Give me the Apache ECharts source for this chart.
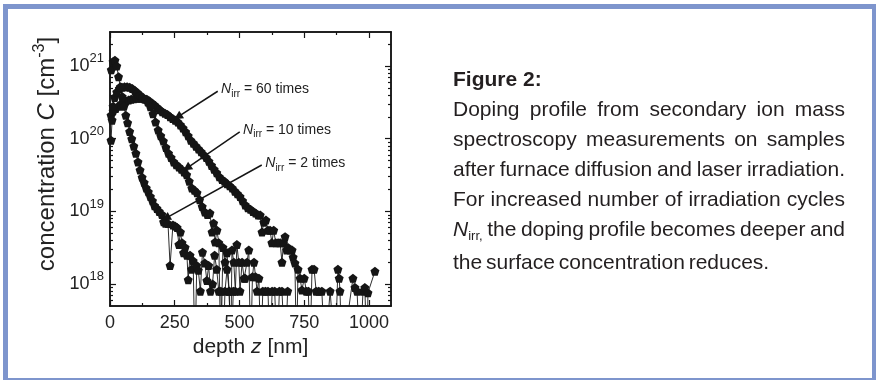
<!DOCTYPE html>
<html>
<head>
<meta charset="utf-8">
<script src="https://cdn.jsdelivr.net/npm/echarts@6/dist/echarts.min.js"></script>
<style>
html,body{margin:0;padding:0;background:#fff;}
#wrap{position:relative;width:876px;height:380px;overflow:hidden;background:#fff;}
#frame{position:absolute;left:3px;top:4px;right:0;bottom:0;border-style:solid;border-color:#7e95cd;border-width:5px 4px 2px 5px;background:#fff;}
#chart{position:absolute;left:0;top:0;width:876px;height:380px;}
#caption{position:absolute;left:453px;top:64px;width:392px;font-family:"Liberation Sans",Arial,sans-serif;font-size:21px;line-height:30px;color:#231f20;word-spacing:-2px;z-index:5;}
#caption .hd{font-weight:bold;word-spacing:0;}
#caption .ln{text-align:justify;text-align-last:justify;}
#caption .last{text-align:left;text-align-last:left;}
#caption .sub{font-size:13px;position:relative;top:4px;}
</style>
</head>
<body>
<div id="wrap">
	<div id="frame"></div>
	<div id="chart"></div>
	<div id="caption">
		<div class="hd">Figure 2:</div>
		<div class="ln">Doping profile from secondary ion mass</div>
		<div class="ln">spectroscopy measurements on samples</div>
		<div class="ln">after furnace diffusion and laser irradiation.</div>
		<div class="ln">For increased number of irradiation cycles</div>
		<div class="ln"><i>N</i><span class="sub">irr,</span> the doping profile becomes deeper and</div>
		<div class="ln last">the surface concentration reduces.</div>
	</div>
</div>
<script>
// depth [nm] and concentration [cm^-3]
var depthA = [5,12,19,26,33,40,47,54,61,68,76,84,92,100,108,116,124,132,140,148,156,164,172,181,190,200,207,214,224,232,243,251,259,266,272,278,284,290,297,302,309,315,321,328,335,341,349,357,366,374,381,388,396,404,412,420,428,436,444,452,460,468,476];
var concA = [8.9e20,1.15e21,1.2e21,1.0e21,7.1e20,5.2e20,3.8e20,2.8e20,2.1e20,1.66e20,1.26e20,1.0e20,7.9e19,6.3e19,4.8e19,3.7e19,2.95e19,2.5e19,2.1e19,1.86e19,1.6e19,1.4e19,1.2e19,1.1e19,1.0e19,9.1e18,7.2e18,6.9e18,6.8e18,1.8e18,6.5e18,6.3e18,6.0e18,3.5e18,5.2e18,3.7e18,2.7e18,3.2e18,2.5e18,1.15e18,2.5e18,1.6e18,2.1e18,1e17,1.8e18,1.55e18,8e17,2.75e18,1.95e18,1.12e18,1.8e18,8e17,1.0e18,2.5e18,1.6e18,8e17,8e17,1e17,8e17,1.6e18,8e17,1e17,8e17];

var depthB = [4,8,12,18,26,36,46,56,66,76,86,96,106,116,126,136,146,156,166,176,186,196,206,216,226,236,246,256,266,276,286,296,306,316,326,336,346,356,366,376,386,394,400,406,413,420,428,436,444,452,460,466,471,478,484,490,497,502,510,518,522,529,536,543,550,556,562,568,575,582,590,600,610,618,626,636,645,654,664,676,686];
var concB = [9.5e19,1.8e20,2.8e20,3.7e20,4.4e20,4.9e20,5.1e20,5.2e20,5.2e20,5.1e20,4.9e20,4.6e20,4.3e20,4.0e20,3.7e20,3.5e20,3.2e20,2.75e20,2.2e20,1.7e20,1.32e20,1.1e20,9.3e19,7.6e19,6.3e19,5.5e19,4.8e19,4.4e19,4.1e19,3.8e19,3.5e19,3.2e19,2.6e19,2.1e19,1.95e19,1.8e19,1.45e19,1.17e19,9.8e18,9.1e18,9.5e18,5.2e18,6.9e18,3.8e18,5.5e18,3.7e18,1e17,3.2e18,2.0e18,2.7e18,8e17,1e17,2.95e18,2.0e18,8e17,3.5e18,2.0e18,8e17,2.0e18,1.2e18,1.2e18,2.0e18,2.95e18,1e17,1.26e18,2.0e18,1.26e18,8e17,1.2e18,1e17,8e17,8e17,8e17,1e17,8e17,8e17,1e17,8e17,8e17,1e17,8e17];

var depthC = [4,12,22,32,42,52,62,72,82,92,102,112,122,132,142,152,162,172,182,192,202,212,222,232,242,252,262,272,282,292,302,312,322,332,342,352,362,372,382,392,402,412,422,432,442,452,462,472,482,492,502,512,522,532,542,552,562,572,580,587,594,602,610,618,625,632,640,649,657,664,670,676,682,687,695,703,707,714,720,726,734,741,750,758,766,772,780,788,796,806,818,830,850,869,880,885,888,896,938,946,954,965,977,984,992,996,1023];
var concC = [2.1e20,2.4e20,2.6e20,2.8e20,3.0e20,3.2e20,3.3e20,3.4e20,3.5e20,3.55e20,3.6e20,3.6e20,3.6e20,3.55e20,3.5e20,3.3e20,3.1e20,2.9e20,2.7e20,2.5e20,2.35e20,2.25e20,2.15e20,2.0e20,1.9e20,1.8e20,1.7e20,1.55e20,1.4e20,1.25e20,1.1e20,9.5e19,8.7e19,7.9e19,7.2e19,6.6e19,6.0e19,5.5e19,4.9e19,4.3e19,3.8e19,3.4e19,3.0e19,2.75e19,2.6e19,2.4e19,2.25e19,2.1e19,1.9e19,1.75e19,1.6e19,1.4e19,1.23e19,1.12e19,1.07e19,1.0e19,9.5e18,8.9e18,8.9e18,5.2e18,7.1e18,7.6e18,5.5e18,5.5e18,3.7e18,5.5e18,3.7e18,3.7e18,3.7e18,2.0e18,3.7e18,4.5e18,2.95e18,3.2e18,2.95e18,2.95e18,2.35e18,1.95e18,1e17,1.6e18,1.2e18,8.3e17,1.2e18,8e17,8e17,1e17,1.6e18,1.6e18,8e17,8e17,8e17,1e17,8e17,1e17,1.6e18,1.2e18,8e17,1e17,1.2e18,9e17,8e17,1e17,8e17,9e17,1e17,7.6e17,1.5e18];

var xMajor = [0,250,500,750,1000];
var xMinor = [125,375,625,875];
var yMajor = [1e18,1e19,1e20,1e21];
var yMinor = [6e17,7e17,8e17,9e17,2e18,3e18,4e18,5e18,6e18,7e18,8e18,9e18,2e19,3e19,4e19,5e19,6e19,7e19,8e19,9e19,2e20,3e20,4e20,5e20,6e20,7e20,8e20,9e20,2e21];

// annotation arrows (data coords): label text, tail, head
var arrowText = ['60 times','10 times','2 times'];
var arrowFrom = [[416,4.5e20],[501,1.24e20],[586,4.35e19]];
var arrowTo = [[262,2.0e20],[297,3.95e19],[216,8.1e18]];

var FONT = '"Liberation Sans", Arial, sans-serif';
var INK = '#151515';
var X_MAX = 1085, Y_MIN = 5e17, Y_MAX = 2.94e21;
var PENTA = 'path://M0,-10 L9.51,-3.09 L5.88,8.09 L-5.88,8.09 L-9.51,-3.09 Z';

function pairs(xs, ys){
	var out = [];
	for(var i=0;i<xs.length;i++){
		out.push([xs[i], ys[i]]);
	}
	return out;
}

function xAxisDef(pos, ticks, len, withLabel){
	var ax = {
		type:'value', position:pos, min:0, max:X_MAX,
		axisLine:{show:true, onZero:false, lineStyle:{color:INK, width:1.5}},
		axisTick:{show:true, inside:true, length:len, customValues:ticks, lineStyle:{color:INK, width:1.2}},
		axisLabel:{show:false},
		splitLine:{show:false}
	};
	if(withLabel){
		ax.axisLabel = {
			show:true, customValues:xMajor, margin:8, color:'#222', fontSize:18, fontFamily:FONT,
			formatter:function(v){ return String(v); }
		};
		ax.name = 'depth {i|z} [nm]';
		ax.nameLocation = 'middle';
		ax.nameGap = 29;
		ax.nameTextStyle = {color:'#222', fontSize:21, fontFamily:FONT,
			rich:{i:{fontStyle:'italic', fontSize:21, fontFamily:FONT, color:'#222'}}};
	}
	return ax;
}

function yAxisDef(pos, ticks, len, withLabel){
	var ax = {
		type:'log', logBase:10, position:pos, min:Y_MIN, max:Y_MAX,
		axisLine:{show:true, onZero:false, lineStyle:{color:INK, width:1.5}},
		axisTick:{show:true, inside:true, length:len, customValues:ticks, lineStyle:{color:INK, width:1.2}},
		axisLabel:{show:false},
		splitLine:{show:false},
		minorTick:{show:false}
	};
	if(withLabel){
		ax.axisLabel = {
			show:true, customValues:yMajor, margin:6, color:'#222',
			formatter:function(v){
				return '{b|10}{s|' + Math.round(Math.log(v)/Math.LN10) + '}';
			},
			rich:{
				b:{fontSize:18, lineHeight:28, fontFamily:FONT, color:'#222'},
				s:{fontSize:13, lineHeight:14, verticalAlign:'top', fontFamily:FONT, color:'#222'}
			}
		};
		ax.name = 'concentration {i|C} [cm{s|-3}]';
		ax.nameLocation = 'middle';
		ax.nameGap = 48;
		ax.nameTextStyle = {color:'#222', fontSize:24, lineHeight:30, fontFamily:FONT,
			padding:[0,0,0,30],
			rich:{
				i:{fontStyle:'italic', fontSize:24, lineHeight:30, fontFamily:FONT, color:'#222'},
				s:{fontSize:16, lineHeight:16, verticalAlign:'top', fontFamily:FONT, color:'#222'}
			}};
	}
	return ax;
}

function profile(xs, ys, k){
	return {
		type:'line', xAxisIndex:0, yAxisIndex:0,
		data:pairs(xs, ys),
		symbol:PENTA, symbolSize:9,
		itemStyle:{color:INK},
		lineStyle:{color:INK, width:0.9},
		clip:true, silent:true,
		markLine:{
			silent:true,
			symbol:['none','triangle'], symbolSize:9,
			lineStyle:{color:INK, width:1.5, type:'solid'},
			emphasis:{disabled:true},
			label:{
				show:true, position:'start', distance:4, align:'left', verticalAlign:'middle',
				formatter:'{n|N}{s|irr} = ' + arrowText[k],
				color:'#222', fontSize:14, fontFamily:FONT,
				rich:{
					n:{fontStyle:'italic', fontSize:14, lineHeight:20, fontFamily:FONT, color:'#222'},
					s:{fontSize:10, lineHeight:10, verticalAlign:'bottom', fontFamily:FONT, color:'#222'}
				}
			},
			data:[[{coord:arrowFrom[k]},{coord:arrowTo[k]}]]
		}
	};
}

function init(){
	var chart = echarts.init(document.getElementById('chart'), null, {renderer:'canvas'});
	chart.setOption({
		animation:false,
		backgroundColor:'transparent',
		textStyle:{fontFamily:FONT},
		grid:{left:110, top:32, width:281, height:274, containLabel:false},
		xAxis:[
			xAxisDef('bottom', xMajor, 6, true),
			xAxisDef('bottom', xMinor, 3, false),
			xAxisDef('top', xMajor, 6, false),
			xAxisDef('top', xMinor, 3, false)
		],
		yAxis:[
			yAxisDef('left', yMajor, 6, true),
			yAxisDef('left', yMinor, 3, false),
			yAxisDef('right', yMajor, 6, false),
			yAxisDef('right', yMinor, 3, false)
		],
		series:[
			profile(depthC, concC, 0),
			profile(depthB, concB, 1),
			profile(depthA, concA, 2)
		]
	});
}
init();
</script>
</body>
</html>
